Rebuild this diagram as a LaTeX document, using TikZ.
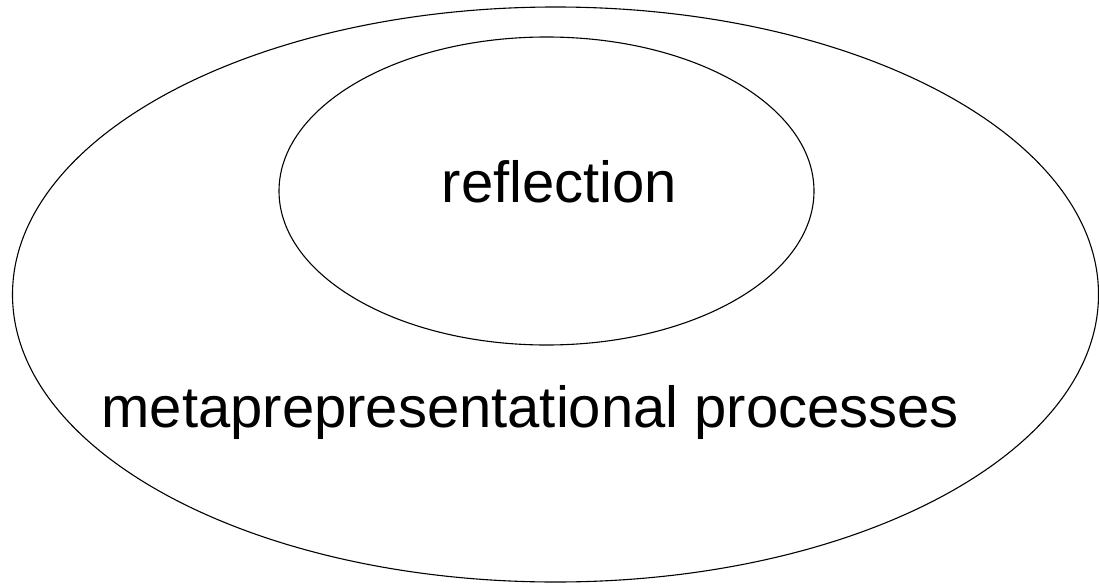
\documentclass[tikz,border=0pt]{standalone}
\usepackage{fontspec}
\setmainfont{Liberation Sans}
\usepackage{tikz}

\begin{document}
\begin{tikzpicture}[x=1pt, y=-1pt, line width=1.1pt,
	bigtext/.style={font=\fontsize{58}{70}\selectfont, inner sep=0pt}]
	\useasboundingbox (0, 0) rectangle (1099, 583);
	\draw (555.5, 294.5) ellipse (543 and 287.5);
	\draw (546.5, 191) ellipse (267.5 and 154);
	\node [bigtext, anchor=base] (refl) at (559.5, 202) {reflection};
	\node [bigtext, anchor=base west] (meta) at (101, 427) {metaprepresentational processes};
\end{tikzpicture}
\end{document}
